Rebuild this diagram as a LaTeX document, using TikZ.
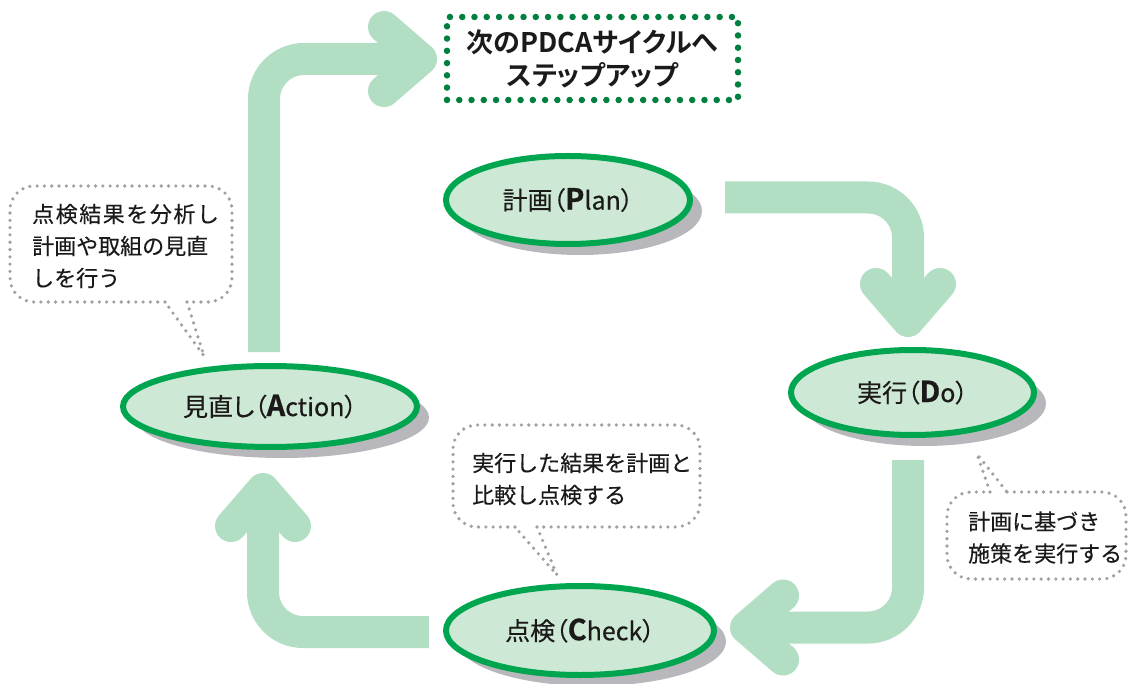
\documentclass[tikz,border=0pt]{standalone}
\usepackage{fontspec}
\setmainfont{Noto Sans CJK JP}[BoldFont={Noto Sans CJK JP Bold}]
\newfontfamily\jpbold{Noto Sans CJK JP Bold}[RawFeature={+palt}]
\newfontfamily\jpmed{Noto Sans CJK JP}[FakeBold=0.35]
\newfontfamily\jplabel{Noto Sans CJK JP}[FakeBold=0.35,RawFeature={+palt}]
\newfontfamily\jpheavy{Noto Sans CJK JP Bold}[FakeBold=0.6]
\usetikzlibrary{shapes.geometric,shadows,calc}
\definecolor{arrowgreen}{RGB}{178,222,196}
\definecolor{ringgreen}{RGB}{0,165,80}
\definecolor{fillgreen}{RGB}{206,232,214}
\definecolor{shadowgray}{RGB}{183,183,188}
\definecolor{dotgreen}{RGB}{0,128,62}
\definecolor{dotgray}{RGB}{160,160,165}
\definecolor{textblack}{RGB}{28,25,25}
\newcommand\bigletter[1]{{\jpheavy\fontsize{29}{28}\selectfont #1}}
\begin{document}
\begin{tikzpicture}[x=1pt,y=-1pt,
  shaft/.style={draw=arrowgreen, line width=32pt, rounded corners=40pt, line cap=butt},
  head/.style={draw=arrowgreen, line width=32pt, line cap=round, line join=round},
  phase/.style={ellipse, draw=ringgreen, line width=6pt, fill=fillgreen, inner sep=0pt,
    text=textblack, font=\jplabel\fontsize{25}{28}\selectfont,
    drop shadow={shadow xshift=12pt, shadow yshift=-11pt, fill=shadowgray, opacity=1}},
  callout/.style={draw=dotgray, line width=3.6pt, dash pattern=on 0pt off 7.3pt,
    line cap=round, rounded corners=24pt},
  tail/.style={draw=dotgray, line width=3.6pt, dash pattern=on 0pt off 7.3pt, line cap=round},
  notetext/.style={anchor=west, align=left, inner sep=0pt, text=textblack,
    font=\jpmed\fontsize{22}{32}\selectfont},
  nextbox/.style={draw=dotgreen, line width=6.5pt, dash pattern=on 0pt off 12.26pt,
    line cap=round, minimum width=291pt, minimum height=83pt, align=center,
    text=textblack, font=\jpbold\fontsize{27}{33}\selectfont}
]
\useasboundingbox (0,0) rectangle (1129,684);

% ---------- arrows ----------
\coordinate (a1s) at (264,352); \coordinate (a1c) at (264,59); \coordinate (a1t) at (421,59);
\draw[shaft] (a1s) -- (a1c) -- (a1t);
\draw[head] ($(a1t)+(-37,-32)$) -- (a1t) -- ($(a1t)+(-37,32)$);

\coordinate (a2s) at (725,197.5); \coordinate (a2c) at (908,197.5); \coordinate (a2t) at (908,321);
\draw[shaft] (a2s) -- (a2c) -- (a2t);
\draw[head] ($(a2t)+(-32,-37)$) -- (a2t) -- ($(a2t)+(32,-37)$);

\coordinate (a3s) at (908,460); \coordinate (a3c) at (908,627.5); \coordinate (a3t) at (746,627.5);
\draw[shaft] (a3s) -- (a3c) -- (a3t);
\draw[head] ($(a3t)+(37,-32)$) -- (a3t) -- ($(a3t)+(37,32)$);

\coordinate (a4s) at (429,632); \coordinate (a4c) at (263,632); \coordinate (a4t) at (263,489);
\draw[shaft] (a4s) -- (a4c) -- (a4t);
\draw[head] ($(a4t)+(-32,37)$) -- (a4t) -- ($(a4t)+(32,37)$);

% ---------- phase ellipses ----------
\node[phase, minimum width=244pt, minimum height=88pt] (plan) at (568,200) {計画（\bigletter{P}lan）};
\node[phase, minimum width=243pt, minimum height=85pt] (do) at (912.5,392.5) {実行（\bigletter{D}o）};
\node[phase, minimum width=294pt, minimum height=81pt] (act) at (270,406.5) {見直し（\bigletter{A}ction）};
\node[phase, minimum width=268pt, minimum height=89pt] (check) at (580,630.5) {点検（\bigletter{C}heck）};

% ---------- next step box ----------
\node[nextbox] (next) at (592.5,58.5) {次のPDCAサイクルへ\\ステップアップ};

% ---------- callouts ----------
\node[notetext] (note1) at (32,246) {\addfontfeatures{LetterSpace=7}点検結果を分析し\\計画や取組の見直\\しを行う};
\coordinate (c1l) at (165,302); \coordinate (c1r) at (187,302); \coordinate (c1p) at (204,356);
\draw[callout] (c1l) -- (10,302) -- (10,186) -- (232,186) -- (232,302) -- (c1r);
\draw[tail] (c1r) -- (c1p) -- (c1l);

\node[notetext] (note2) at (472,479) {実行した結果を計画と\\比較し点検する};
\coordinate (c2l) at (515,527); \coordinate (c2r) at (537,527); \coordinate (c2p) at (557,575);
\draw[callout] (c2l) -- (453,527) -- (453,425) -- (700,425) -- (700,527) -- (c2r);
\draw[tail] (c2r) -- (c2p) -- (c2l);

\node[notetext] (note3) at (968,537.5) {計画に基づき\\施策を実行する};
\coordinate (c3l) at (990,492); \coordinate (c3r) at (1007,492); \coordinate (c3p) at (977,454);
\draw[callout] (c3r) -- (1126,492) -- (1126,579) -- (947,579) -- (947,492) -- (c3l);
\draw[tail] (c3l) -- (c3p) -- (c3r);
\end{tikzpicture}
\end{document}
